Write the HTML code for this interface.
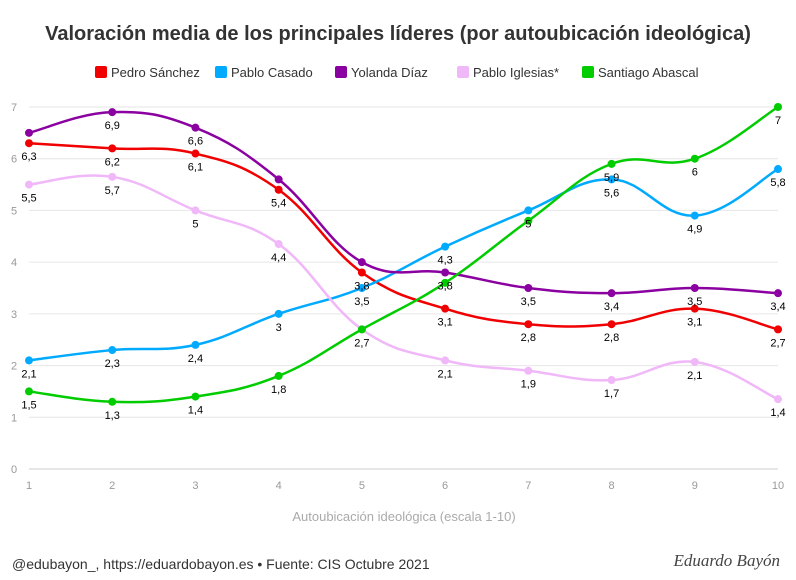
<!DOCTYPE html>
<html><head><meta charset="utf-8"><style>
body{margin:0;width:796px;height:575px;background:#fff;font-family:"Liberation Sans",sans-serif;overflow:hidden}
</style></head><body>
<svg id="chart" width="796" height="575" xmlns="http://www.w3.org/2000/svg">
<text x="398" y="40" text-anchor="middle" font-size="20" font-weight="bold" fill="#333">Valoración media de los principales líderes (por autoubicación ideológica)</text>
<g id="legend"></g>
<g id="grid"></g><g id="series"></g><g id="labels"></g>
<text x="404" y="521" text-anchor="middle" font-size="13" fill="#aaa">Autoubicación ideológica (escala 1-10)</text>
<text x="12" y="569" font-size="14" fill="#333">@edubayon_, https://eduardobayon.es • Fuente: CIS Octubre 2021</text>
<text x="780" y="566" text-anchor="end" font-size="17" font-style="italic" font-family="Liberation Serif,serif" fill="#444">Eduardo Bayón</text>
</svg>
<script>
const categories=[1,2,3,4,5,6,7,8,9,10];
const yTicks=[0,1,2,3,4,5,6,7];
const seriesNames=["Pedro Sánchez","Pablo Casado","Yolanda Díaz","Pablo Iglesias*","Santiago Abascal"];
const seriesColors=["#f00000","#00aaff","#8b00a0","#f0b8f8","#00cc00"];
const pedro=[6.3,6.2,6.1,5.4,3.8,3.1,2.8,2.8,3.1,2.7];
const casado=[2.1,2.3,2.4,3,3.5,4.3,5,5.6,4.9,5.8];
const yolanda=[6.5,6.9,6.6,5.6,4.0,3.8,3.5,3.4,3.5,3.4];
const iglesias=[5.5,5.65,5,4.35,2.7,2.1,1.9,1.72,2.07,1.35];
const abascal=[1.5,1.3,1.4,1.8,2.7,3.6,4.8,5.9,6,7];
const allSeries=[pedro,casado,yolanda,iglesias,abascal];
const NS="http://www.w3.org/2000/svg";
const x=v=>29+(v-1)*(778-29)/9;
const y=v=>469-v*(469-107)/7;
function mk(t,a,p){const e=document.createElementNS(NS,t);for(const k in a)e.setAttribute(k,a[k]);p.appendChild(e);return e;}
const grid=document.getElementById('grid');
yTicks.forEach(t=>{
 const l=mk('line',{x1:29,x2:778,y1:y(t),y2:y(t),stroke:t===0?'#ccc':'#e6e6e6'},grid);
 
 
 const tx=mk('text',{x:14,y:y(t)+4,'font-size':11,fill:'#999','text-anchor':'middle'},grid);tx.textContent=t;
 
 
});
categories.forEach(c=>{
 const tx=mk('text',{x:x(c),y:489,'font-size':11,fill:'#999','text-anchor':'middle'},grid);tx.textContent=c;
 
 
});
const lg=document.getElementById('legend');
const lw=[120,120,122,125,120];let lx=95;
seriesNames.forEach((n,i)=>{
 const r=mk('rect',{x:lx,y:66,width:12,height:12,rx:2,fill:seriesColors[i]},lg);
 
 
 const t=mk('text',{x:lx+16,y:77,'font-size':13,fill:'#333'},lg);t.textContent=n;
 
 
 lx+=lw[i];
});
function path(pts){
 let d=`M${pts[0][0]},${pts[0][1]}`;
 for(let i=0;i<pts.length-1;i++){
  const p0=pts[i-1]||pts[i],p1=pts[i],p2=pts[i+1],p3=pts[i+2]||p2;
  const t=0.2;
  const c1y=p1[1]+(p2[1]-p0[1])*t, c2y=p2[1]-(p3[1]-p1[1])*t;
  const c1x=p1[0]+(p2[0]-p0[0])*t, c2x=p2[0]-(p3[0]-p1[0])*t;
  d+=` C${c1x},${c1y} ${c2x},${c2y} ${p2[0]},${p2[1]}`;
 }
 return d;
}
const sg=document.getElementById('series'),lb=document.getElementById('labels');
const boxes=[];
allSeries.forEach((s,i)=>{
 const pts=s.map((v,j)=>[x(categories[j]),y(v)]);
 const p=mk('path',{d:path(pts),fill:'none',stroke:seriesColors[i],'stroke-width':2.5},sg);
 
 
 pts.forEach(pt=>{
  const c=mk('circle',{cx:pt[0],cy:pt[1],r:4,fill:seriesColors[i]},sg);
  
  
 });
});
allSeries.forEach((s,i)=>{
 s.forEach((v,j)=>{
  const lx=x(categories[j]),ly=y(v)+17;
  const b=[lx-9,ly-9,lx+9,ly+2];
  if(boxes.some(o=>!(b[2]<o[0]||b[0]>o[2]||b[3]<o[1]||b[1]>o[3])))return;
  boxes.push(b);
  const t=mk('text',{x:lx,y:ly,'font-size':11,fill:'#000','text-anchor':'middle'},lb);
  t.textContent=String(Math.round(v*10)/10).replace('.',',');
  
  
 });
});
</script>
</body></html>
